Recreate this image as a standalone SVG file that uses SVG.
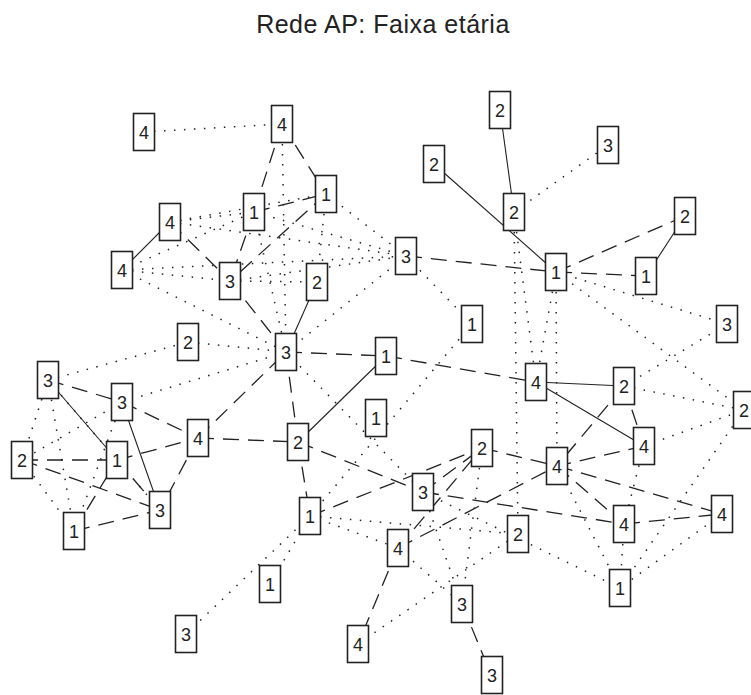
<svg xmlns="http://www.w3.org/2000/svg" width="751" height="695" viewBox="0 0 751 695">
<style>
.bg{fill:#fff}
.title{font-family:"Liberation Sans",Arial,sans-serif;font-size:25px;fill:#222;text-anchor:middle;letter-spacing:0.5px}
.node rect{fill:#fff;stroke:#222;stroke-width:1.6}
.node text{font-family:"Liberation Sans",Arial,sans-serif;font-size:18px;fill:#222;text-anchor:middle}
#edges line{stroke:#222;fill:none}
#edges .s{stroke-width:1.1}
#edges .d{stroke-width:1.3;stroke-dasharray:16 9}
#edges .o{stroke-width:1.5;stroke-dasharray:1.5 8.5}
</style>
<rect class="bg" x="0" y="0" width="751" height="695"/>
<text class="title" x="383" y="33">Rede AP: Faixa etária</text>
<g id="edges">
<line class="s" x1="170" y1="222" x2="122" y2="270"/>
<line class="s" x1="317" y1="282" x2="286" y2="352"/>
<line class="s" x1="386" y1="356" x2="298" y2="442"/>
<line class="s" x1="48" y1="380" x2="117" y2="460"/>
<line class="s" x1="122" y1="402" x2="160" y2="510"/>
<line class="s" x1="500" y1="110" x2="514" y2="212"/>
<line class="s" x1="434" y1="164" x2="556" y2="272"/>
<line class="s" x1="685" y1="216" x2="646" y2="276"/>
<line class="s" x1="536" y1="382" x2="624" y2="386"/>
<line class="s" x1="536" y1="382" x2="644" y2="446"/>
<line class="d" x1="282" y1="124" x2="326" y2="194"/>
<line class="d" x1="282" y1="124" x2="254" y2="212"/>
<line class="d" x1="254" y1="212" x2="326" y2="194"/>
<line class="d" x1="326" y1="194" x2="230" y2="281"/>
<line class="d" x1="254" y1="212" x2="230" y2="281"/>
<line class="d" x1="170" y1="222" x2="230" y2="281"/>
<line class="d" x1="230" y1="281" x2="286" y2="352"/>
<line class="d" x1="406" y1="256" x2="556" y2="272"/>
<line class="d" x1="556" y1="272" x2="685" y2="216"/>
<line class="d" x1="556" y1="272" x2="646" y2="276"/>
<line class="d" x1="286" y1="352" x2="386" y2="356"/>
<line class="d" x1="386" y1="356" x2="536" y2="382"/>
<line class="d" x1="286" y1="352" x2="298" y2="442"/>
<line class="d" x1="198" y1="438" x2="286" y2="352"/>
<line class="d" x1="198" y1="438" x2="298" y2="442"/>
<line class="d" x1="48" y1="380" x2="122" y2="402"/>
<line class="d" x1="122" y1="402" x2="198" y2="438"/>
<line class="d" x1="117" y1="460" x2="198" y2="438"/>
<line class="d" x1="22" y1="460" x2="117" y2="460"/>
<line class="d" x1="22" y1="460" x2="160" y2="510"/>
<line class="d" x1="74" y1="531" x2="160" y2="510"/>
<line class="d" x1="74" y1="531" x2="117" y2="460"/>
<line class="d" x1="198" y1="438" x2="160" y2="510"/>
<line class="d" x1="117" y1="460" x2="160" y2="510"/>
<line class="d" x1="298" y1="442" x2="310" y2="516"/>
<line class="d" x1="298" y1="442" x2="423" y2="492"/>
<line class="d" x1="310" y1="516" x2="482" y2="448"/>
<line class="d" x1="423" y1="492" x2="482" y2="448"/>
<line class="d" x1="398" y1="548" x2="482" y2="448"/>
<line class="d" x1="423" y1="492" x2="624" y2="524"/>
<line class="d" x1="482" y1="448" x2="557" y2="466"/>
<line class="d" x1="398" y1="548" x2="557" y2="466"/>
<line class="d" x1="624" y1="386" x2="644" y2="446"/>
<line class="d" x1="624" y1="386" x2="557" y2="466"/>
<line class="d" x1="644" y1="446" x2="557" y2="466"/>
<line class="d" x1="557" y1="466" x2="722" y2="514"/>
<line class="d" x1="557" y1="466" x2="624" y2="524"/>
<line class="d" x1="624" y1="524" x2="722" y2="514"/>
<line class="d" x1="398" y1="548" x2="358" y2="644"/>
<line class="d" x1="462" y1="604" x2="492" y2="677"/>
<line class="o" x1="144" y1="132" x2="282" y2="124"/>
<line class="o" x1="282" y1="124" x2="286" y2="352"/>
<line class="o" x1="326" y1="194" x2="317" y2="282"/>
<line class="o" x1="326" y1="194" x2="406" y2="256"/>
<line class="o" x1="254" y1="212" x2="406" y2="256"/>
<line class="o" x1="170" y1="222" x2="406" y2="256"/>
<line class="o" x1="122" y1="270" x2="406" y2="256"/>
<line class="o" x1="230" y1="281" x2="406" y2="256"/>
<line class="o" x1="170" y1="222" x2="254" y2="212"/>
<line class="o" x1="170" y1="222" x2="326" y2="194"/>
<line class="o" x1="122" y1="270" x2="230" y2="281"/>
<line class="o" x1="122" y1="270" x2="286" y2="352"/>
<line class="o" x1="122" y1="270" x2="254" y2="212"/>
<line class="o" x1="230" y1="281" x2="317" y2="282"/>
<line class="o" x1="406" y1="256" x2="472" y2="324"/>
<line class="o" x1="286" y1="352" x2="406" y2="256"/>
<line class="o" x1="286" y1="352" x2="423" y2="492"/>
<line class="o" x1="472" y1="324" x2="310" y2="516"/>
<line class="o" x1="48" y1="380" x2="188" y2="342"/>
<line class="o" x1="188" y1="342" x2="286" y2="352"/>
<line class="o" x1="286" y1="352" x2="254" y2="212"/>
<line class="o" x1="122" y1="402" x2="286" y2="352"/>
<line class="o" x1="48" y1="380" x2="22" y2="460"/>
<line class="o" x1="48" y1="380" x2="74" y2="531"/>
<line class="o" x1="48" y1="380" x2="160" y2="510"/>
<line class="o" x1="122" y1="402" x2="22" y2="460"/>
<line class="o" x1="122" y1="402" x2="74" y2="531"/>
<line class="o" x1="22" y1="460" x2="74" y2="531"/>
<line class="o" x1="514" y1="212" x2="608" y2="145"/>
<line class="o" x1="514" y1="212" x2="518" y2="534"/>
<line class="o" x1="514" y1="212" x2="536" y2="382"/>
<line class="o" x1="556" y1="272" x2="536" y2="382"/>
<line class="o" x1="556" y1="272" x2="557" y2="466"/>
<line class="o" x1="556" y1="272" x2="727" y2="324"/>
<line class="o" x1="556" y1="272" x2="744" y2="410"/>
<line class="o" x1="727" y1="324" x2="624" y2="386"/>
<line class="o" x1="624" y1="386" x2="744" y2="410"/>
<line class="o" x1="644" y1="446" x2="744" y2="410"/>
<line class="o" x1="744" y1="410" x2="620" y2="588"/>
<line class="o" x1="722" y1="514" x2="620" y2="588"/>
<line class="o" x1="624" y1="524" x2="620" y2="588"/>
<line class="o" x1="557" y1="466" x2="620" y2="588"/>
<line class="o" x1="423" y1="492" x2="620" y2="588"/>
<line class="o" x1="310" y1="516" x2="186" y2="634"/>
<line class="o" x1="310" y1="516" x2="270" y2="584"/>
<line class="o" x1="310" y1="516" x2="518" y2="534"/>
<line class="o" x1="310" y1="516" x2="398" y2="548"/>
<line class="o" x1="482" y1="448" x2="462" y2="604"/>
<line class="o" x1="423" y1="492" x2="462" y2="604"/>
<line class="o" x1="358" y1="644" x2="518" y2="534"/>
<line class="o" x1="398" y1="548" x2="462" y2="604"/>
<line class="o" x1="644" y1="446" x2="624" y2="524"/>
</g>
<g id="n1" class="node"><rect x="133.5" y="113.5" width="21" height="37"/><text x="144" y="138.5">4</text></g>
<g id="n2" class="node"><rect x="271.5" y="105.5" width="21" height="37"/><text x="282" y="130.5">4</text></g>
<g id="n3" class="node"><rect x="315.5" y="175.5" width="21" height="37"/><text x="326" y="200.5">1</text></g>
<g id="n4" class="node"><rect x="243.5" y="193.5" width="21" height="37"/><text x="254" y="218.5">1</text></g>
<g id="n5" class="node"><rect x="159.5" y="203.5" width="21" height="37"/><text x="170" y="228.5">4</text></g>
<g id="n6" class="node"><rect x="111.5" y="251.5" width="21" height="37"/><text x="122" y="276.5">4</text></g>
<g id="n7" class="node"><rect x="219.5" y="262.5" width="21" height="37"/><text x="230" y="287.5">3</text></g>
<g id="n8" class="node"><rect x="306.5" y="263.5" width="21" height="37"/><text x="317" y="288.5">2</text></g>
<g id="n9" class="node"><rect x="395.5" y="237.5" width="21" height="37"/><text x="406" y="262.5">3</text></g>
<g id="n10" class="node"><rect x="489.5" y="91.5" width="21" height="37"/><text x="500" y="116.5">2</text></g>
<g id="n11" class="node"><rect x="423.5" y="145.5" width="21" height="37"/><text x="434" y="170.5">2</text></g>
<g id="n12" class="node"><rect x="503.5" y="193.5" width="21" height="37"/><text x="514" y="218.5">2</text></g>
<g id="n13" class="node"><rect x="545.5" y="253.5" width="21" height="37"/><text x="556" y="278.5">1</text></g>
<g id="n14" class="node"><rect x="597.5" y="126.5" width="21" height="37"/><text x="608" y="151.5">3</text></g>
<g id="n15" class="node"><rect x="674.5" y="197.5" width="21" height="37"/><text x="685" y="222.5">2</text></g>
<g id="n16" class="node"><rect x="635.5" y="257.5" width="21" height="37"/><text x="646" y="282.5">1</text></g>
<g id="n17" class="node"><rect x="716.5" y="305.5" width="21" height="37"/><text x="727" y="330.5">3</text></g>
<g id="n18" class="node"><rect x="613.5" y="367.5" width="21" height="37"/><text x="624" y="392.5">2</text></g>
<g id="n19" class="node"><rect x="733.5" y="391.5" width="21" height="37"/><text x="744" y="416.5">2</text></g>
<g id="n20" class="node"><rect x="461.5" y="305.5" width="21" height="37"/><text x="472" y="330.5">1</text></g>
<g id="n21" class="node"><rect x="177.5" y="323.5" width="21" height="37"/><text x="188" y="348.5">2</text></g>
<g id="n22" class="node"><rect x="275.5" y="333.5" width="21" height="37"/><text x="286" y="358.5">3</text></g>
<g id="n23" class="node"><rect x="375.5" y="337.5" width="21" height="37"/><text x="386" y="362.5">1</text></g>
<g id="n24" class="node"><rect x="365.5" y="399.5" width="21" height="37"/><text x="376" y="424.5">1</text></g>
<g id="n25" class="node"><rect x="287.5" y="423.5" width="21" height="37"/><text x="298" y="448.5">2</text></g>
<g id="n26" class="node"><rect x="37.5" y="361.5" width="21" height="37"/><text x="48" y="386.5">3</text></g>
<g id="n27" class="node"><rect x="111.5" y="383.5" width="21" height="37"/><text x="122" y="408.5">3</text></g>
<g id="n28" class="node"><rect x="187.5" y="419.5" width="21" height="37"/><text x="198" y="444.5">4</text></g>
<g id="n29" class="node"><rect x="11.5" y="441.5" width="21" height="37"/><text x="22" y="466.5">2</text></g>
<g id="n30" class="node"><rect x="106.5" y="441.5" width="21" height="37"/><text x="117" y="466.5">1</text></g>
<g id="n31" class="node"><rect x="149.5" y="491.5" width="21" height="37"/><text x="160" y="516.5">3</text></g>
<g id="n32" class="node"><rect x="63.5" y="512.5" width="21" height="37"/><text x="74" y="537.5">1</text></g>
<g id="n33" class="node"><rect x="471.5" y="429.5" width="21" height="37"/><text x="482" y="454.5">2</text></g>
<g id="n34" class="node"><rect x="412.5" y="473.5" width="21" height="37"/><text x="423" y="498.5">3</text></g>
<g id="n35" class="node"><rect x="299.5" y="497.5" width="21" height="37"/><text x="310" y="522.5">1</text></g>
<g id="n36" class="node"><rect x="387.5" y="529.5" width="21" height="37"/><text x="398" y="554.5">4</text></g>
<g id="n37" class="node"><rect x="525.5" y="363.5" width="21" height="37"/><text x="536" y="388.5">4</text></g>
<g id="n38" class="node"><rect x="633.5" y="427.5" width="21" height="37"/><text x="644" y="452.5">4</text></g>
<g id="n39" class="node"><rect x="546.5" y="447.5" width="21" height="37"/><text x="557" y="472.5">4</text></g>
<g id="n40" class="node"><rect x="613.5" y="505.5" width="21" height="37"/><text x="624" y="530.5">4</text></g>
<g id="n41" class="node"><rect x="711.5" y="495.5" width="21" height="37"/><text x="722" y="520.5">4</text></g>
<g id="n42" class="node"><rect x="507.5" y="515.5" width="21" height="37"/><text x="518" y="540.5">2</text></g>
<g id="n43" class="node"><rect x="609.5" y="569.5" width="21" height="37"/><text x="620" y="594.5">1</text></g>
<g id="n44" class="node"><rect x="451.5" y="585.5" width="21" height="37"/><text x="462" y="610.5">3</text></g>
<g id="n45" class="node"><rect x="481.5" y="656.5" width="21" height="37"/><text x="492" y="681.5">3</text></g>
<g id="n46" class="node"><rect x="259.5" y="565.5" width="21" height="37"/><text x="270" y="590.5">1</text></g>
<g id="n47" class="node"><rect x="175.5" y="615.5" width="21" height="37"/><text x="186" y="640.5">3</text></g>
<g id="n48" class="node"><rect x="347.5" y="625.5" width="21" height="37"/><text x="358" y="650.5">4</text></g>
</svg>
